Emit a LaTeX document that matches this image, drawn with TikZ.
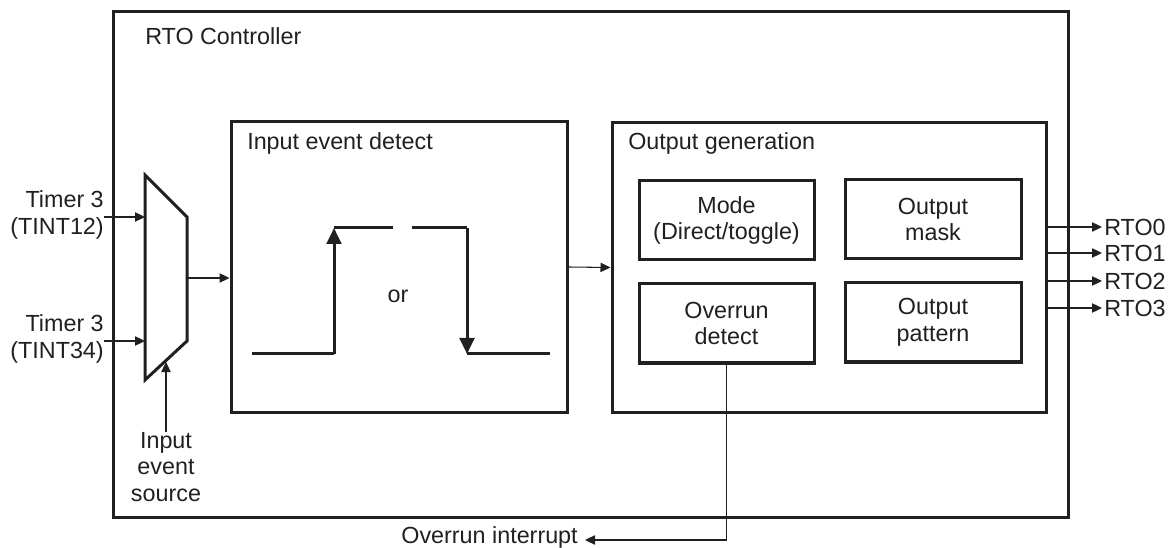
\documentclass[tikz,border=0pt]{standalone}
\usepackage{fontspec}
\setmainfont{Liberation Sans}
\usetikzlibrary{arrows.meta}
\definecolor{ink}{HTML}{231F20}
\begin{document}
\begin{tikzpicture}[x=0.75pt,y=-0.75pt,
  every node/.style={font=\fontsize{17.5}{20}\selectfont, text=ink},
  box/.style={draw=ink, line width=2.25pt, inner sep=0pt, align=center},
  thin/.style={draw=ink, line width=0.8pt},
  arr/.style={thin, -{Triangle[length=7.5pt,width=7pt]}},
  wave/.style={draw=ink, line width=2.25pt},
  warr/.style={wave, -{Triangle[length=12pt,width=11pt]}},
  lbl/.style={inner sep=0pt, align=center}]
\useasboundingbox (0,0) rectangle (1176,548);

% containers
\node[box, minimum width={955*0.75pt}, minimum height={505*0.75pt}] (rto) at (590.5,264.5) {};
\node[lbl, anchor=base west] (rtot) at (145,45) {RTO Controller};

\node[box, minimum width={336*0.75pt}, minimum height={290*0.75pt}] (ied) at (399,267) {};
\node[lbl, anchor=base west] (iedt) at (247,150) {Input event detect};

\node[box, minimum width={434*0.75pt}, minimum height={289*0.75pt}] (og) at (829,267.5) {};
\node[lbl, anchor=base west] (ogt) at (628,150) {Output generation};

% inner boxes
\node[box, minimum width={175*0.75pt}, minimum height={79*0.75pt}] (mode) at (726.5,220.5) {Mode\\(Direct/toggle)};
\node[box, minimum width={176*0.75pt}, minimum height={79*0.75pt}] (mask) at (933,219.5) {Output\\mask};
\node[box, minimum width={175*0.75pt}, minimum height={79*0.75pt}] (ovr) at (726.5,323.5) {Overrun\\detect};
\node[box, minimum width={176*0.75pt}, minimum height={79*0.75pt}] (pat) at (933,322.5) {Output\\pattern};

% mux
\draw[draw=ink, line width=2.25pt, line join=miter] (145,175) -- (187,217) -- (187,341) -- (145,380) -- cycle;
\coordinate (mi1) at (145,217);
\coordinate (mi2) at (145,341);
\coordinate (mo) at (187,278);
\coordinate (msel) at (166,362);

% inputs
\node[lbl, align=right, anchor=east] (t1) at (104,215) {Timer 3\\(TINT12)};
\node[lbl, align=right, anchor=east] (t2) at (104,339) {Timer 3\\(TINT34)};
\draw[arr] (t1.east |- mi1) -- (mi1);
\draw[arr] (t2.east |- mi2) -- (mi2);

\node[lbl, anchor=north] (src) at (166,432) {Input\\event\\source};
\draw[arr] (src.north) -- (msel);

\draw[arr] (mo) -- (mo -| ied.west);
\draw[arr] (ied.east) -- (og.west);

% waveform
\coordinate (w1) at (252,354);
\coordinate (w2) at (334,354);
\coordinate (w3) at (334,228);
\coordinate (w4) at (393,228);
\coordinate (w5) at (412,228);
\coordinate (w6) at (467,228);
\coordinate (w7) at (467,354);
\coordinate (w8) at (550,354);
\draw[wave] (w1) -- (w2);
\draw[warr] (w2) -- (w3);
\draw[wave] (w3) -- (w4);
\draw[wave] (w5) -- (w6);
\draw[warr] (w6) -- (w7);
\draw[wave] (w7) -- (w8);
\node[lbl] (or) at (398,296) {or};

% outputs
\foreach \i/\y in {0/227,1/253,2/281,3/308}{
  \coordinate (o\i) at (1102,\y);
  \node[lbl, anchor=west] (rto\i) at (1104,\y) {RTO\i};
  \draw[arr] (o\i -| og.east) -- (o\i);
}

% overrun interrupt
\node[lbl, anchor=base east] (oi) at (578,543) {Overrun interrupt};
\coordinate (oc) at (726.5,540);
\coordinate (oe) at (585,540);
\draw[arr] (ovr.south) -- (oc) -- (oe);
\end{tikzpicture}
\end{document}
